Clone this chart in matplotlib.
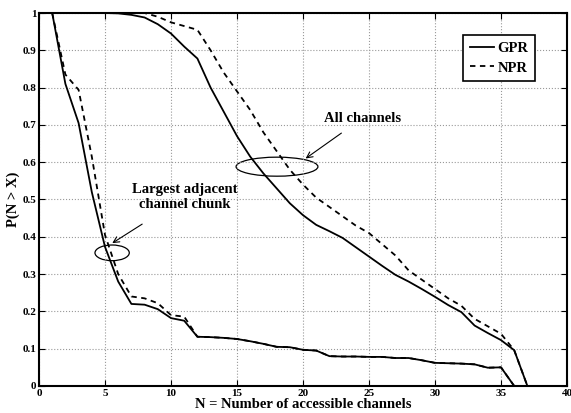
import numpy as np
import matplotlib.pyplot as plt
from matplotlib.patches import Ellipse

plt.rcParams['font.family'] = ['Liberation Serif', 'DejaVu Serif']
plt.rcParams['font.weight'] = 'bold'

n = np.arange(1, 41)

# all channels
gpr_all = [1.0, 1.0, 1.0, 1.0, 1.0, 0.999, 0.995, 0.988, 0.97, 0.945,
           0.91, 0.878, 0.80, 0.735, 0.67, 0.615, 0.57, 0.53, 0.49, 0.458,
           0.432, 0.415, 0.397, 0.372, 0.347, 0.322, 0.298, 0.28, 0.26, 0.239,
           0.217, 0.198, 0.162, 0.142, 0.123, 0.096, 0.0, 0.0, 0.0, 0.0]
npr_all = [1.0, 1.0, 1.0, 1.0, 1.0, 1.0, 1.0, 1.0, 0.99, 0.975,
           0.965, 0.955, 0.90, 0.84, 0.79, 0.74, 0.68, 0.63, 0.58, 0.54,
           0.505, 0.48, 0.455, 0.43, 0.41, 0.38, 0.35, 0.31, 0.285, 0.26,
           0.235, 0.215, 0.18, 0.16, 0.14, 0.096, 0.0, 0.0, 0.0, 0.0]

# largest adjacent channel chunk
gpr_chunk = [1.0, 0.81, 0.705, 0.52, 0.373, 0.28, 0.22, 0.218, 0.206, 0.182,
             0.175, 0.132, 0.131, 0.129, 0.126, 0.12, 0.113, 0.105, 0.104, 0.097,
             0.095, 0.08, 0.079, 0.079, 0.078, 0.078, 0.075, 0.075, 0.069, 0.062,
             0.061, 0.06, 0.058, 0.049, 0.05, 0.0, 0.0, 0.0, 0.0, 0.0]
npr_chunk = [1.0, 0.835, 0.794, 0.615, 0.405, 0.30, 0.24, 0.235, 0.222, 0.19,
             0.186, 0.132, 0.131, 0.129, 0.126, 0.12, 0.113, 0.105, 0.104, 0.097,
             0.095, 0.08, 0.079, 0.079, 0.078, 0.078, 0.075, 0.075, 0.069, 0.062,
             0.061, 0.06, 0.058, 0.049, 0.05, 0.0, 0.0, 0.0, 0.0, 0.0]

fig = plt.figure(figsize=(5.71, 4.13), dpi=100)
ax = fig.add_axes([0.0683, 0.0654, 0.9247, 0.9031])

ax.plot(n, gpr_all, color='black', lw=1.3, label='GPR')
ax.plot(n, npr_all, color='black', lw=1.3, ls=(0, (3, 2.5)), label='NPR')
ax.plot(n, gpr_chunk, color='black', lw=1.3)
ax.plot(n, npr_chunk, color='black', lw=1.3, ls=(0, (3, 2.5)))

ax.set_xlim(0, 40)
ax.set_ylim(0, 1)
ax.set_xticks(np.arange(0, 41, 5))
ax.set_yticks(np.arange(0, 1.01, 0.1))
ax.set_yticklabels(['0', '0.1', '0.2', '0.3', '0.4', '0.5', '0.6', '0.7', '0.8', '0.9', '1'])
ax.tick_params(direction='in', top=True, right=True, labelsize=8, length=4, pad=2)
ax.grid(True, ls=':', color='#999999', lw=0.8)
for s in ax.spines.values():
    s.set_linewidth(1.5)

ax.set_xlabel('N = Number of accessible channels', fontsize=10.5, fontweight='bold', labelpad=0)
ax.set_ylabel('P(N > X)', fontsize=10.5, fontweight='bold', labelpad=2)

# annotations
ax.add_patch(Ellipse((18.03, 0.588), 6.2, 0.051, fill=False, lw=0.9, color='black'))
ax.annotate('All channels', xy=(20.2, 0.61), xytext=(24.5, 0.718),
            fontsize=10.5, fontweight='bold', ha='center', va='center',
            arrowprops=dict(arrowstyle='->', lw=0.8, color='black', shrinkA=7, shrinkB=0))
ax.add_patch(Ellipse((5.54, 0.357), 2.6, 0.042, fill=False, lw=0.9, color='black'))
ax.annotate('Largest adjacent\nchannel chunk', xy=(5.55, 0.383), xytext=(11.06, 0.507),
            fontsize=10.5, fontweight='bold', ha='center', va='center', linespacing=1.2,
            arrowprops=dict(arrowstyle='->', lw=0.8, color='black', shrinkA=14, shrinkB=0))

leg = ax.legend(loc='upper right', bbox_to_anchor=(0.939, 0.941), borderaxespad=0,
                fontsize=10.5, handlelength=1.7, handletextpad=0.2, borderpad=0.45,
                labelspacing=0.45, fancybox=False, edgecolor='black', framealpha=1)
leg.get_frame().set_linewidth(1.2)

fig.savefig('out.png', dpi=100)
